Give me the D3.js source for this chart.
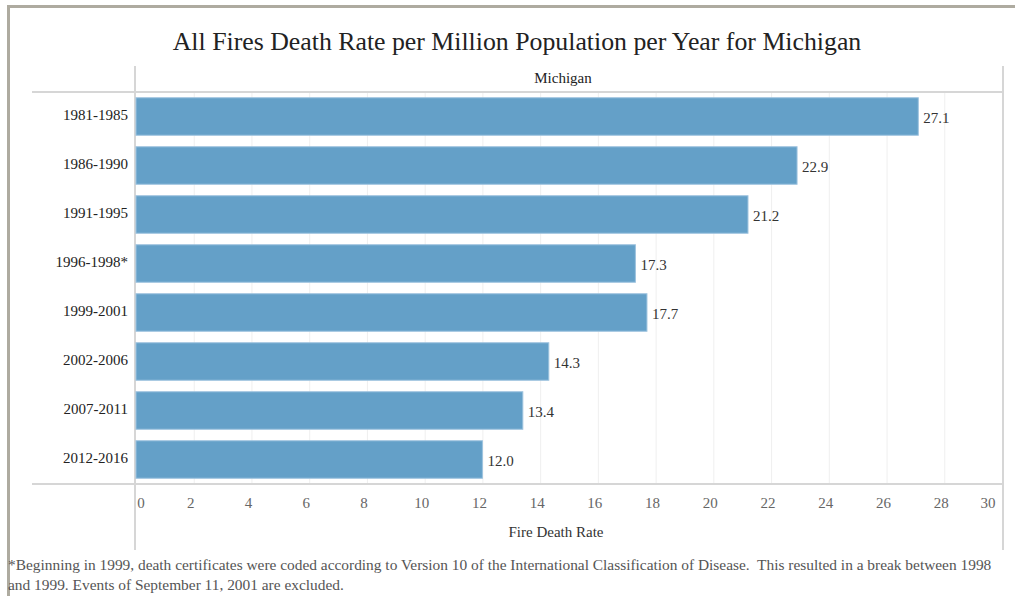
<!DOCTYPE html>
<html>
<head>
<meta charset="utf-8">
<script src="https://cdn.jsdelivr.net/npm/d3@7"></script>
<style>
  body { margin: 0; background: #fff; }
  svg text { white-space: pre; }
</style>
</head>
<body>
<div id="chart"></div>
<script>
// data
const periods = ["1981-1985", "1986-1990", "1991-1995", "1996-1998*", "1999-2001", "2002-2006", "2007-2011", "2012-2016"];
const rates = [27.1, 22.9, 21.2, 17.3, 17.7, 14.3, 13.4, 12.0];
const xTicks = [0, 2, 4, 6, 8, 10, 12, 14, 16, 18, 20, 22, 24, 26, 28, 30];
const footnote = [
  "*Beginning in 1999, death certificates were coded according to Version 10 of the International Classification of Disease.  This resulted in a break between 1998",
  "and 1999. Events of September 11, 2001 are excluded."
];

const width = 1015, height = 596;
const plotLeft = 136, plotRight = 1002, plotTop = 92, plotBottom = 484;
const serif = "'Liberation Serif', 'DejaVu Serif', serif";

const data = periods.map((p, i) => ({ period: p, rate: rates[i] }));

const svg = d3.select("#chart").append("svg")
  .attr("width", width)
  .attr("height", height)
  .attr("font-family", serif);

// page frame
svg.append("path")
  .attr("d", `M8.5,${height} V6.5 H${width}`)
  .attr("fill", "none")
  .attr("stroke", "#aeaba0")
  .attr("stroke-width", 3);

const x = d3.scaleLinear().domain([0, 30]).range([plotLeft, plotRight]);
const y = d3.scaleBand()
  .domain(periods)
  .range([plotTop, plotBottom])
  .paddingInner(0.235)
  .paddingOuter(0.1175);

// title
svg.append("text")
  .attr("x", 517)
  .attr("y", 50)
  .attr("text-anchor", "middle")
  .attr("font-size", 25.8)
  .attr("fill", "#222")
  .text("All Fires Death Rate per Million Population per Year for Michigan");

// grid
svg.append("g")
  .selectAll("line")
  .data(xTicks.filter(t => t > 0 && t < 30))
  .join("line")
  .attr("x1", d => x(d) + 0.5)
  .attr("x2", d => x(d) + 0.5)
  .attr("y1", plotTop)
  .attr("y2", plotBottom)
  .attr("stroke", "#efefef")
  .attr("stroke-width", 1);

// frame lines of the panel
const lineColor = "#d6d6d6";
svg.append("line")
  .attr("x1", 32).attr("x2", plotRight + 1)
  .attr("y1", plotTop).attr("y2", plotTop)
  .attr("stroke", lineColor).attr("stroke-width", 2);
svg.append("line")
  .attr("x1", 32).attr("x2", plotRight + 1)
  .attr("y1", plotBottom).attr("y2", plotBottom)
  .attr("stroke", lineColor).attr("stroke-width", 2);
svg.append("line")
  .attr("x1", plotLeft - 1).attr("x2", plotLeft - 1)
  .attr("y1", 66).attr("y2", 550)
  .attr("stroke", lineColor).attr("stroke-width", 2);
svg.append("line")
  .attr("x1", plotRight + 1).attr("x2", plotRight + 1)
  .attr("y1", 66).attr("y2", 550)
  .attr("stroke", lineColor).attr("stroke-width", 2);

// panel header
svg.append("text")
  .attr("x", 563)
  .attr("y", 83)
  .attr("text-anchor", "middle")
  .attr("font-size", 15)
  .attr("fill", "#222")
  .text("Michigan");

// bars
svg.append("g")
  .selectAll("rect")
  .data(data)
  .join("rect")
  .attr("x", x(0))
  .attr("y", d => y(d.period))
  .attr("width", d => x(d.rate) - x(0))
  .attr("height", y.bandwidth())
  .attr("fill", "#64a0c8")
  .attr("stroke", "#9cc2de")
  .attr("stroke-width", 1);

// value labels
svg.append("g")
  .selectAll("text")
  .data(data)
  .join("text")
  .attr("x", d => x(d.rate) + 5)
  .attr("y", d => y(d.period) + y.bandwidth() / 2 + 6)
  .attr("font-size", 15)
  .attr("fill", "#333")
  .text(d => d.rate.toFixed(1));

// category labels
svg.append("g")
  .selectAll("text")
  .data(data)
  .join("text")
  .attr("x", 128)
  .attr("y", d => y(d.period) + y.bandwidth() / 2 + 3)
  .attr("text-anchor", "end")
  .attr("font-size", 15)
  .attr("fill", "#222")
  .text(d => d.period);

// x tick labels
svg.append("g")
  .selectAll("text")
  .data(xTicks)
  .join("text")
  .attr("x", d => d === 0 ? x(d) + 5 : d === 30 ? x(d) - 14 : x(d) - 3)
  .attr("y", 508)
  .attr("text-anchor", "middle")
  .attr("font-size", 15)
  .attr("fill", "#666")
  .text(d => d);

// x axis title
svg.append("text")
  .attr("x", 556)
  .attr("y", 537)
  .attr("text-anchor", "middle")
  .attr("font-size", 15)
  .attr("fill", "#333")
  .text("Fire Death Rate");

// footnote
svg.append("g")
  .selectAll("text")
  .data(footnote)
  .join("text")
  .attr("x", 8)
  .attr("y", (d, i) => 570 + i * 20)
  .attr("font-size", 15.4)
  .attr("fill", "#555")
  .text(d => d);
</script>
</body>
</html>
